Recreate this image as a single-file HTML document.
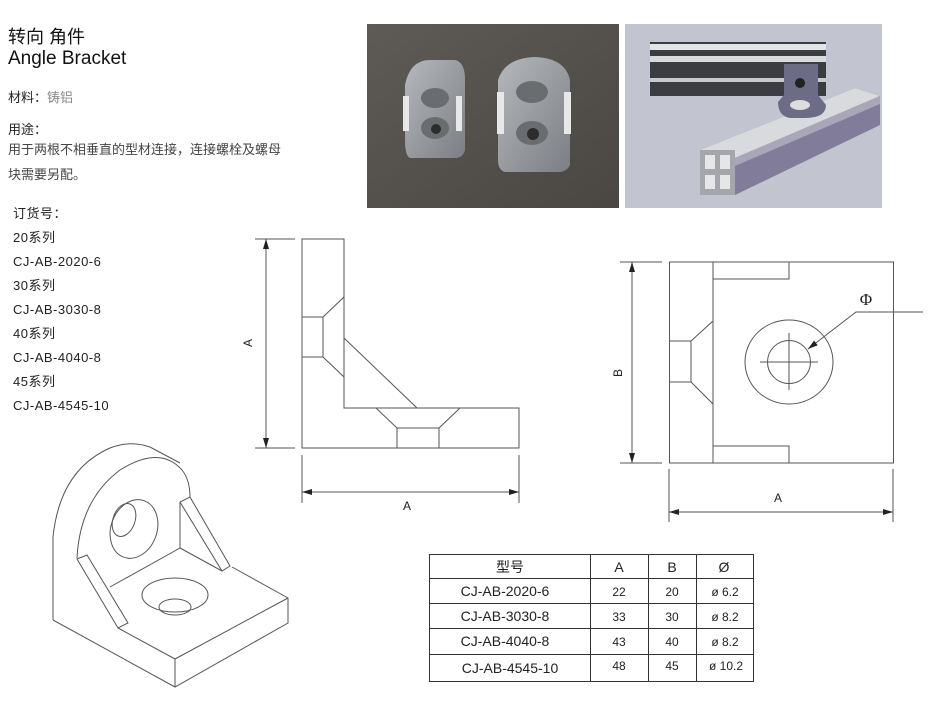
<!DOCTYPE html>
<html><head><meta charset="utf-8"><style>
body{margin:0;width:934px;height:708px;background:#fff;position:relative;overflow:hidden;font-family:"Liberation Sans","Noto Sans CJK SC",sans-serif;color:#222}
.t{position:absolute;white-space:nowrap;line-height:1}
</style></head><body>
<div class="t" style="left:8px;top:28px;font-size:18px;color:#111">转向 角件</div>
<div class="t" style="left:8px;top:49px;font-size:19px;color:#111">Angle Bracket</div>
<div class="t" style="left:8px;top:91px;font-size:13px">材料：<span style="color:#888">铸铝</span></div>
<div class="t" style="left:8px;top:123px;font-size:13px">用途：</div>
<div class="t" style="left:8px;top:143px;font-size:13px;color:#444">用于两根不相垂直的型材连接，连接螺栓及螺母</div>
<div class="t" style="left:8px;top:168px;font-size:13px;color:#444">块需要另配。</div>
<div class="t" style="left:13px;top:202px;font-size:13px;line-height:24px;letter-spacing:0.5px">订货号：<br>20系列<br>CJ-AB-2020-6<br>30系列<br>CJ-AB-3030-8<br>40系列<br>CJ-AB-4040-8<br>45系列<br>CJ-AB-4545-10</div>

<svg width="934" height="708" style="position:absolute;left:0;top:0" xmlns="http://www.w3.org/2000/svg">
<defs>
<linearGradient id="wood" x1="0" y1="0" x2="1" y2="1"><stop offset="0" stop-color="#5e5a55"/><stop offset="1" stop-color="#4a4743"/></linearGradient>
<linearGradient id="metal" x1="0" y1="0" x2="1" y2="1"><stop offset="0" stop-color="#b5b8bc"/><stop offset="1" stop-color="#7b7f84"/></linearGradient>
<marker id="ar" viewBox="0 0 10 6" refX="10" refY="3" markerWidth="10" markerHeight="6" orient="auto-start-reverse" markerUnits="userSpaceOnUse"><path d="M0,0L10,3L0,6z" fill="#222"/></marker>
</defs>
<!-- photo 1 -->
<rect x="367" y="24" width="252" height="184" fill="url(#wood)"/>
<path d="M405,140 L405,85 Q410,60 430,60 L455,60 Q465,62 465,80 L465,150 Q463,158 455,158 L410,158 Q405,156 405,140Z" fill="url(#metal)"/>
<rect x="403" y="96" width="6" height="35" fill="#e8e8e8"/><rect x="456" y="96" width="6" height="35" fill="#e8e8e8"/>
<ellipse cx="435" cy="98" rx="14" ry="10" fill="#6a6d70"/><ellipse cx="435" cy="128" rx="14" ry="11" fill="#6a6d70"/><circle cx="436" cy="129" r="5" fill="#2d2d2d"/>
<path d="M498,160 L498,80 Q505,58 535,57 Q565,58 570,80 L570,165 Q567,172 558,172 L505,172 Q498,170 498,160Z" fill="url(#metal)"/>
<rect x="497" y="92" width="7" height="42" fill="#e8e8e8"/><rect x="564" y="92" width="7" height="42" fill="#e8e8e8"/>
<ellipse cx="532" cy="92" rx="16" ry="11" fill="#6a6d70"/><ellipse cx="532" cy="133" rx="16" ry="12" fill="#6a6d70"/><circle cx="533" cy="134" r="6" fill="#2d2d2d"/>
<!-- photo 2 -->
<rect x="625" y="24" width="257" height="184" fill="#c2c4d0"/>
<rect x="650" y="42" width="176" height="54" fill="#3b3d42"/>
<rect x="650" y="44" width="176" height="6" fill="#e2e4e6"/><rect x="650" y="56" width="176" height="6" fill="#d8dadc"/><rect x="650" y="78" width="176" height="4" fill="#c8cacc"/>
<path d="M700,150 L855,88 L880,96 L880,125 L735,195 L700,190Z" fill="#807c9a"/>
<path d="M700,150 L855,88 L880,96 L735,158Z" fill="#d8dade"/>
<path d="M735,158 L880,96 L880,104 L735,166Z" fill="#a8a6b8"/>
<rect x="700" y="150" width="35" height="45" fill="#a4a6ac"/>
<rect x="705" y="155" width="10" height="14" fill="#e6e6e8"/><rect x="720" y="155" width="10" height="14" fill="#e6e6e8"/><rect x="705" y="175" width="10" height="14" fill="#e6e6e8"/><rect x="720" y="175" width="10" height="14" fill="#e6e6e8"/>
<path d="M784,64 L818,64 L818,95 L826,105 Q826,118 805,118 L790,118 Q778,116 778,102 L784,95Z" fill="#6d6c86"/>
<ellipse cx="800" cy="105" rx="10" ry="5" fill="#ddd"/><circle cx="800" cy="83" r="5" fill="#222"/>
<!-- table -->
<g stroke="#333" stroke-width="1" fill="none">
<rect x="429.5" y="554.5" width="324" height="127"/>
<line x1="429" y1="578.5" x2="754" y2="578.5"/><line x1="429" y1="603.5" x2="754" y2="603.5"/><line x1="429" y1="628.5" x2="754" y2="628.5"/><line x1="429" y1="654.5" x2="754" y2="654.5"/>
<line x1="590.5" y1="554" x2="590.5" y2="682"/><line x1="648.5" y1="554" x2="648.5" y2="682"/><line x1="696.5" y1="554" x2="696.5" y2="682"/>
</g>
<g font-family="Liberation Sans,Noto Sans CJK SC,sans-serif" fill="#222" text-anchor="middle">
<text x="510" y="572" font-size="14">型号</text><text x="619" y="572" font-size="14">A</text><text x="672" y="572" font-size="14">B</text><text x="724" y="572" font-size="14">Ø</text>
<text x="505" y="596" font-size="14">CJ-AB-2020-6</text><text x="619" y="596" font-size="12">22</text><text x="672" y="596" font-size="12">20</text><text x="725" y="596" font-size="12">ø 6.2</text>
<text x="505" y="621" font-size="14">CJ-AB-3030-8</text><text x="619" y="621" font-size="12">33</text><text x="672" y="621" font-size="12">30</text><text x="725" y="621" font-size="12">ø 8.2</text>
<text x="505" y="646" font-size="14">CJ-AB-4040-8</text><text x="619" y="646" font-size="12">43</text><text x="672" y="646" font-size="12">40</text><text x="725" y="646" font-size="12">ø 8.2</text>
<text x="510" y="673" font-size="14">CJ-AB-4545-10</text><text x="619" y="670" font-size="12">48</text><text x="672" y="670" font-size="12">45</text><text x="726" y="670" font-size="12">ø 10.2</text>
</g>
<!-- side view -->
<g stroke="#555" stroke-width="1" fill="none">
<path d="M302,239 H344 V408 H519 V448 H302 Z"/>
<path d="M302,317 H323 V357 H302"/><path d="M323,317 L344,297 M323,357 L344,377"/>
<path d="M344,338 L417,408"/>
<path d="M376,408 L397,428 H439 L460,408 M397,428 V448 M439,428 V448"/>
<path d="M255,239 H295 M255,448 H295 M302,455 V503 M519,455 V503"/>
<line x1="266" y1="239" x2="266" y2="448" marker-start="url(#ar)" marker-end="url(#ar)"/>
<line x1="302" y1="492" x2="519" y2="492" marker-start="url(#ar)" marker-end="url(#ar)"/>
<!-- front view -->
<rect x="669.5" y="262" width="224" height="201"/>
<path d="M713,262 V463 M713,279 H789 V262 M713,446 H789 V463"/>
<path d="M669,341 H691 V382 H669 M691,341 L713,321 M691,382 L713,404"/>
<ellipse cx="789" cy="362" rx="44" ry="42"/><circle cx="789" cy="362" r="21.5"/>
<path d="M760,362 H818 M789,333 V390"/>
<path d="M923,312 H856 L808,349" marker-end="url(#ar)"/>
<path d="M620,262 H662 M620,463 H662 M669,469 V522 M893,469 V522"/>
<line x1="632" y1="262" x2="632" y2="463" marker-start="url(#ar)" marker-end="url(#ar)"/>
<line x1="669" y1="512" x2="893" y2="512" marker-start="url(#ar)" marker-end="url(#ar)"/>
<!-- iso -->
<path d="M53,620 V537 Q60,470 110,448 Q130,440 150,447 L180,463"/>
<path d="M77,558 Q80,500 120,470 Q160,445 182,470 Q190,480 190,497"/>
<path d="M53,620 L175,687 L288,623 V598 L232,567"/>
<path d="M77,559 L87,555 L128,623 L118,628 Z"/>
<path d="M118,628 L175,659 L288,598 M175,659 V687"/>
<path d="M110,587 L180,548 V502 L190,497 L230,566 L222,571 L180,502 M180,548 L222,571"/>
<ellipse cx="134" cy="529" rx="23" ry="30" transform="rotate(20 134 529)"/>
<ellipse cx="124" cy="520" rx="11" ry="17" transform="rotate(20 124 520)"/>
<ellipse cx="175" cy="595" rx="33" ry="17"/><ellipse cx="175" cy="607" rx="16" ry="8"/>
</g>
<g font-family="Liberation Sans,sans-serif" fill="#222" font-size="12" text-anchor="middle">
<text x="407" y="510">A</text><text x="778" y="502">A</text>
<text transform="translate(252,343) rotate(-90)">A</text>
<text transform="translate(622,373) rotate(-90)">B</text>
<text x="866" y="305" font-family="Liberation Serif,serif" font-size="17">Φ</text>
</g>
</svg>
</body></html>
